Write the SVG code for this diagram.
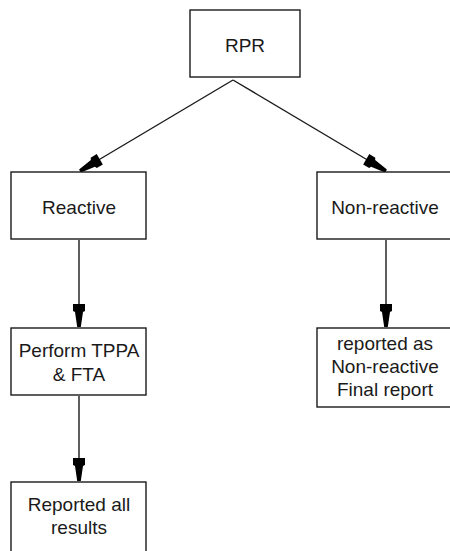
<svg xmlns="http://www.w3.org/2000/svg" width="450" height="551" viewBox="0 0 450 551">
  <style>
    .box { fill: #ffffff; stroke: #1a1a1a; stroke-width: 1.4; }
    .lbl { font-family: "Liberation Sans", Arial, sans-serif; font-size: 19px; fill: #1a1a1a; text-anchor: middle; }
    .edge { fill: none; stroke: #1a1a1a; stroke-width: 1.4; marker-end: url(#head); }
  </style>
  <defs>
    <!-- bullet-style arrowhead: wide collar at the back, tapering to a blunt tip -->
    <marker id="head" markerUnits="userSpaceOnUse" markerWidth="30" markerHeight="16" refX="0" refY="0" orient="auto" overflow="visible">
      <path d="M0,-1.8 L-15,-4 L-16,-6 L-23,-6 L-23,6 L-16,6 L-15,4 L0,1.8 Z" fill="#000000"/>
    </marker>
  </defs>
  <rect width="450" height="551" fill="#ffffff"/>

  <g id="connectors">
    <path class="edge" d="M233,80 L80,171"/>
    <path class="edge" d="M233,80 L386,171"/>
    <path class="edge" d="M79,240 L79,327"/>
    <path class="edge" d="M386,240 L386,327"/>
    <path class="edge" d="M79,396 L79,481"/>
  </g>

  <g id="rpr">
    <rect class="box" x="190" y="10" width="110" height="67"/>
    <text class="lbl" x="245" y="52">RPR</text>
  </g>
  <g id="reactive">
    <rect class="box" x="11" y="172" width="135" height="67"/>
    <text class="lbl" x="79" y="214">Reactive</text>
  </g>
  <g id="non-reactive">
    <rect class="box" x="317" y="172" width="136" height="67"/>
    <text class="lbl" x="385" y="214">Non-reactive</text>
  </g>
  <g id="perform">
    <rect class="box" x="11" y="328" width="135" height="67"/>
    <text class="lbl" x="79" y="357">Perform TPPA</text>
    <text class="lbl" x="79" y="381">&amp; FTA</text>
  </g>
  <g id="final-report">
    <rect class="box" x="317" y="328" width="136" height="79"/>
    <text class="lbl" x="385" y="350">reported as</text>
    <text class="lbl" x="385" y="373">Non-reactive</text>
    <text class="lbl" x="385" y="396">Final report</text>
  </g>
  <g id="reported-all">
    <rect class="box" x="11" y="482" width="135" height="80"/>
    <text class="lbl" x="79" y="511">Reported all</text>
    <text class="lbl" x="79" y="534">results</text>
  </g>
</svg>
